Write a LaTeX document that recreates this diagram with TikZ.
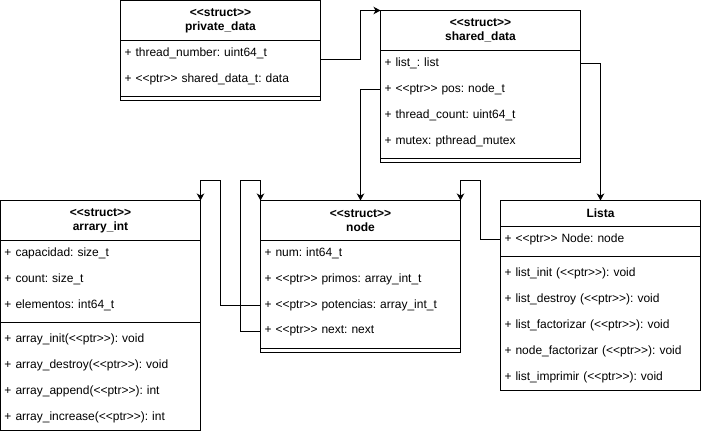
\documentclass[tikz,border=0pt]{standalone}
\usepackage{fontspec}
\setmainfont{Liberation Sans}
\usetikzlibrary{arrows.meta,calc}
\newcommand\stt{<{}<struct>{}>}
\newcommand\ptrs{<{}<ptr>{}>}
\begin{document}
\frenchspacing
\begin{tikzpicture}[x=1pt,y=-1pt,
  box/.style={draw, line width=1pt, minimum width=200, inner sep=0, outer sep=0, anchor=north west},
  hdr/.style={box, minimum height=40, align=center, font=\fontsize{12}{14}\selectfont\bfseries},
  row/.style={anchor=north west, minimum height=26, text width=192, inner xsep=4, inner ysep=0, outer sep=0, align=left, font=\fontsize{12}{14}\selectfont\frenchspacing},
  sep/.style={line width=1pt},
  arr/.style={draw, line width=1pt, -{Stealth[length=7pt,width=7.5pt,inset=2pt]}}]
\useasboundingbox (0,0) rectangle (701,434);

% private_data
\node[box, minimum height=100] (pd) at (120.5,0.5) {};
\node[hdr] (pdh) at (120.5,0.5) {\stt\\private\_data};
\node[row] (pd1) at (120.5,40) {+ thread\_number: uint64\_t};
\node[row] (pd2) at (120.5,66) {+ \ptrs\ shared\_data\_t: data};
\draw[sep] (120.5,96.5) -- (320.5,96.5);

% shared_data
\node[box, minimum height=152] (sd) at (380.5,10.5) {};
\node[hdr] (sdh) at (380.5,10.5) {\stt\\shared\_data};
\node[row] (sd1) at (380.5,50) {+ list\_: list};
\node[row] (sd2) at (380.5,76) {+ \ptrs\ pos: node\_t};
\node[row] (sd3) at (380.5,102) {+ thread\_count: uint64\_t};
\node[row] (sd4) at (380.5,128) {+ mutex: pthread\_mutex};
\draw[sep] (380.5,158.5) -- (580.5,158.5);

% node
\node[box, minimum height=152] (nd) at (260.5,200.5) {};
\node[hdr] (ndh) at (260.5,200.5) {\stt\\node};
\node[row] (nd1) at (260.5,240) {+ num: int64\_t};
\node[row] (nd2) at (260.5,266) {+ \ptrs\ primos: array\_int\_t};
\node[row] (nd3) at (260.5,292) {+ \ptrs\ potencias: array\_int\_t};
\node[row] (nd4) at (260.5,318) {+ \ptrs\ next: next};
\draw[sep] (260.5,348.5) -- (460.5,348.5);

% arrary_int
\node[box, minimum height=230] (ai) at (0.5,200.5) {};
\node[hdr] (aih) at (0.5,200.5) {\stt\\arrary\_int};
\node[row] (ai1) at (0.5,240) {+ capacidad: size\_t};
\node[row] (ai2) at (0.5,266) {+ count: size\_t};
\node[row] (ai3) at (0.5,292) {+ elementos: int64\_t};
\draw[sep] (0.5,322.5) -- (200.5,322.5);
\node[row] (ai4) at (0.5,326) {+ array\_init(\ptrs): void};
\node[row] (ai5) at (0.5,352) {+ array\_destroy(\ptrs): void};
\node[row] (ai6) at (0.5,378) {+ array\_append(\ptrs): int};
\node[row] (ai7) at (0.5,404) {+ array\_increase(\ptrs): int};

% Lista
\node[box, minimum height=190] (li) at (500.5,200.5) {};
\node[box, minimum height=26, font=\fontsize{12}{14}\selectfont\bfseries] (lih) at (500.5,200.5) {Lista};
\node[row] (li1) at (500.5,226) {+ \ptrs\ Node: node};
\draw[sep] (500.5,256.5) -- (700.5,256.5);
\node[row] (li2) at (500.5,260) {+ list\_init (\ptrs): void};
\node[row] (li3) at (500.5,286) {+ list\_destroy (\ptrs): void};
\node[row] (li4) at (500.5,312) {+ list\_factorizar (\ptrs): void};
\node[row] (li5) at (500.5,338) {+ node\_factorizar (\ptrs): void};
\node[row] (li6) at (500.5,364) {+ list\_imprimir (\ptrs): void};

% connectors
\draw[arr] ($(pd.north east)+(0,59)$) -- ++(40,0) |- (sd.north west);
\draw[arr] (sd2.west) -| (nd.north);
\draw[arr] (sd1.east) -| (li.north);
\draw[arr] (nd3.west) -- ++(-40,0) |- ($(ai.north east)+(0,-20)$) -- (ai.north east);
\draw[arr] (nd4.west) -- ++(-20,0) |- ($(nd.north west)+(0,-20)$) -- (nd.north west);
\draw[arr] (li1.west) -- ++(-20,0) |- ($(nd.north east)+(0,-20)$) -- (nd.north east);
\end{tikzpicture}
\end{document}
